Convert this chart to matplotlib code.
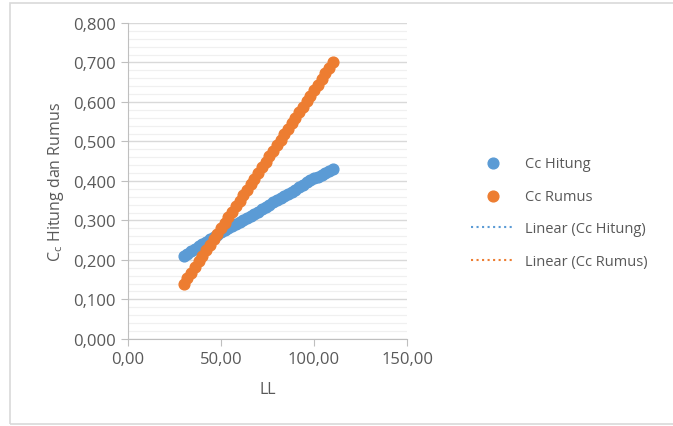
import numpy as np
import matplotlib
matplotlib.use("Agg")
import matplotlib.pyplot as plt
from matplotlib.patches import Rectangle
from matplotlib.ticker import MultipleLocator, FuncFormatter

plt.rcParams["font.family"] = ["Open Sans", "DejaVu Sans"]

# data
ll = [30, 32, 34, 36, 38, 40, 42, 44, 46, 48, 50, 52, 54, 56, 58, 60,
      62, 64, 66, 68, 70, 72, 74, 76, 78, 80, 82, 84, 86, 88, 90, 92,
      94, 96, 98, 100, 102, 104, 106, 108, 110]
cc_hitung = [0.210, 0.216, 0.222, 0.228, 0.234, 0.240, 0.246, 0.252, 0.258,
             0.264, 0.270, 0.276, 0.281, 0.287, 0.292, 0.297, 0.302, 0.307,
             0.312, 0.317, 0.322, 0.328, 0.334, 0.340, 0.346, 0.352, 0.357,
             0.362, 0.367, 0.372, 0.378, 0.384, 0.390, 0.396, 0.402, 0.407,
             0.411, 0.416, 0.420, 0.425, 0.430]
cc_rumus = [0.140, 0.154, 0.168, 0.182, 0.196, 0.210, 0.224, 0.238, 0.252,
            0.266, 0.280, 0.294, 0.308, 0.322, 0.336, 0.350, 0.364, 0.378,
            0.392, 0.406, 0.420, 0.434, 0.448, 0.462, 0.476, 0.490, 0.504,
            0.518, 0.532, 0.546, 0.560, 0.574, 0.588, 0.602, 0.616, 0.630,
            0.644, 0.658, 0.672, 0.686, 0.700]

blue = "#5B9BD5"
orange = "#ED7D31"
txt = "#595959"

fig = plt.figure(figsize=(6.73, 4.27), dpi=100)
fig.patches.append(Rectangle((10 / 673, 2 / 427), 700 / 673, 421 / 427,
                             transform=fig.transFigure, fill=False,
                             edgecolor="#D9D9D9", linewidth=1.2))
ax = fig.add_axes([0.190, 0.204, 0.415, 0.740])

x = np.array(ll)
xs = np.array([min(ll), max(ll)])
h_fit = np.polyfit(x, cc_hitung, 1)
r_fit = np.polyfit(x, cc_rumus, 1)

ax.scatter(ll, cc_hitung, s=60, color=blue, zorder=3, label="Cc Hitung")
ax.scatter(ll, cc_rumus, s=60, color=orange, zorder=3, label="Cc Rumus")
ax.plot(xs, np.polyval(h_fit, xs), color=blue, linestyle=":", lw=1.5,
        zorder=2, label="Linear (Cc Hitung)")
ax.plot(xs, np.polyval(r_fit, xs), color=orange, linestyle=":", lw=1.5,
        zorder=2, label="Linear (Cc Rumus)")

ax.set_xlim(0, 150)
ax.set_ylim(0, 0.8)
ax.xaxis.set_major_locator(MultipleLocator(50))
ax.yaxis.set_major_locator(MultipleLocator(0.1))
ax.yaxis.set_minor_locator(MultipleLocator(0.02))
ax.xaxis.set_major_formatter(FuncFormatter(lambda v, p: f"{v:.2f}".replace(".", ",")))
ax.yaxis.set_major_formatter(FuncFormatter(lambda v, p: f"{v:.3f}".replace(".", ",")))

ax.grid(True, which="major", axis="y", color="#D9D9D9", lw=1.0)
ax.grid(True, which="minor", axis="y", color="#F0F0F0", lw=0.9)
ax.set_axisbelow(True)

for s in ["top", "right"]:
    ax.spines[s].set_visible(False)
for s in ["left", "bottom"]:
    ax.spines[s].set_color("#BFBFBF")
ax.tick_params(axis="both", which="major", colors="#BFBFBF", labelcolor=txt,
               labelsize=12, length=5, direction="out")
ax.tick_params(axis="both", which="minor", length=0)

ax.set_xlabel("LL", color=txt, fontsize=11.5, labelpad=10)
ax.set_ylabel("C$_\\mathregular{c}$ Hitung dan Rumus", color=txt,
              fontsize=11.5, labelpad=5)

ax.legend(loc="center left", bbox_to_anchor=(0.68, 0.50), bbox_transform=fig.transFigure,
          frameon=False, fontsize=10.5, labelcolor=txt, handlelength=3,
          labelspacing=1.2, markerscale=1.0, handletextpad=0.7)

fig.savefig("out.png", dpi=100)
